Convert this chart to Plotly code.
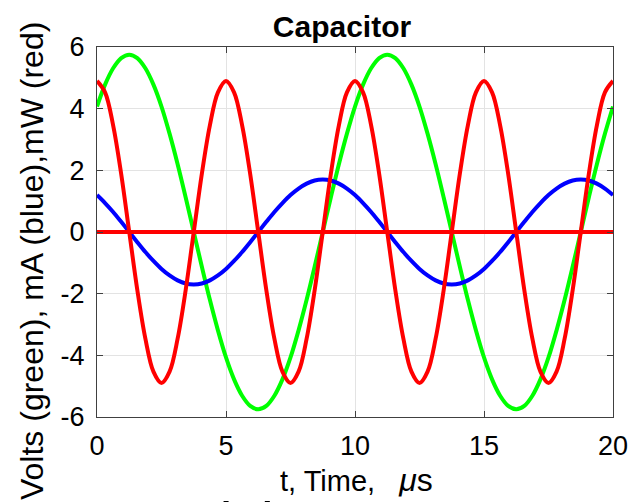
import plotly.graph_objects as go

# time samples (microseconds)
t = [0.0, 0.3125, 0.625, 0.9375, 1.25, 1.5625, 1.875, 2.1875, 2.5, 2.8125, 3.125, 3.4375, 3.75, 4.0625, 4.375, 4.6875,
     5.0, 5.3125, 5.625, 5.9375, 6.25, 6.5625, 6.875, 7.1875, 7.5, 7.8125, 8.125, 8.4375, 8.75, 9.0625, 9.375, 9.6875,
     10.0, 10.3125, 10.625, 10.9375, 11.25, 11.5625, 11.875, 12.1875, 12.5, 12.8125, 13.125, 13.4375, 13.75, 14.0625, 14.375, 14.6875,
     15.0, 15.3125, 15.625, 15.9375, 16.25, 16.5625, 16.875, 17.1875, 17.5, 17.8125, 18.125, 18.4375, 18.75, 19.0625, 19.375, 19.6875,
     20.0]

# voltage (green), volts
volts = [4.07, 4.78, 5.31, 5.64,
         5.75, 5.64, 5.31, 4.78, 4.07, 3.19, 2.20, 1.12, 0.0, -1.12, -2.20, -3.19, -4.07, -4.78, -5.31, -5.64,
         -5.75, -5.64, -5.31, -4.78, -4.07, -3.19, -2.20, -1.12, 0.0, 1.12, 2.20, 3.19, 4.07, 4.78, 5.31, 5.64,
         5.75, 5.64, 5.31, 4.78, 4.07, 3.19, 2.20, 1.12, 0.0, -1.12, -2.20, -3.19, -4.07, -4.78, -5.31, -5.64,
         -5.75, -5.64, -5.31, -4.78, -4.07, -3.19, -2.20, -1.12, 0.0, 1.12, 2.20, 3.19, 4.07]

# current (blue), mA
current = [1.20, 0.94, 0.65, 0.33, 0.0, -0.33, -0.65, -0.94, -1.20, -1.41, -1.57, -1.67, -1.70, -1.67, -1.57, -1.41,
           -1.20, -0.94, -0.65, -0.33, 0.0, 0.33, 0.65, 0.94, 1.20, 1.41, 1.57, 1.67,
           1.70, 1.67, 1.57, 1.41, 1.20, 0.94, 0.65, 0.33, 0.0, -0.33, -0.65, -0.94, -1.20, -1.41, -1.57, -1.67,
           -1.70, -1.67, -1.57, -1.41, -1.20, -0.94, -0.65, -0.33, 0.0, 0.33, 0.65, 0.94, 1.20, 1.41, 1.57, 1.67,
           1.70, 1.67, 1.57, 1.41, 1.20]

# power (red), mW
power = [4.90, 4.53, 3.46, 1.88, 0.0, -1.88, -3.46, -4.53, -4.90, -4.53, -3.46, -1.88, 0.0, 1.88, 3.46, 4.53,
         4.90, 4.53, 3.46, 1.88, 0.0, -1.88, -3.46, -4.53, -4.90, -4.53, -3.46, -1.88, 0.0, 1.88, 3.46, 4.53,
         4.90, 4.53, 3.46, 1.88, 0.0, -1.88, -3.46, -4.53, -4.90, -4.53, -3.46, -1.88, 0.0, 1.88, 3.46, 4.53,
         4.90, 4.53, 3.46, 1.88, 0.0, -1.88, -3.46, -4.53, -4.90, -4.53, -3.46, -1.88, 0.0, 1.88, 3.46, 4.53,
         4.90]

# zero reference line (red)
zero_t = [0, 20]
zero_y = [0, 0]

x_ticks = [0, 5, 10, 15, 20]
y_ticks = [-6, -4, -2, 0, 2, 4, 6]

title_text = "<b>Capacitor</b>"
x_label = "t, Time,\u00a0\u00a0\u00a0<span style='font-size:32px'><i>μ</i>s</span>"
y_label = "Volts (green), mA (blue),mW (red)"
bottom_text = "Deriving more C"

FONT = "Liberation Sans, Arial, Helvetica, sans-serif"
LW = 4

fig = go.Figure()
fig.add_trace(go.Scatter(x=t, y=volts, mode="lines", line=dict(color="#00ff00", width=LW, shape="spline"),
                         showlegend=False))
fig.add_trace(go.Scatter(x=t, y=current, mode="lines", line=dict(color="#0000ff", width=LW, shape="spline"),
                         showlegend=False))
fig.add_trace(go.Scatter(x=t, y=power, mode="lines", line=dict(color="#ff0000", width=LW, shape="spline"),
                         showlegend=False))
fig.add_trace(go.Scatter(x=zero_t, y=zero_y, mode="lines", line=dict(color="#ff0000", width=LW),
                         showlegend=False))

axis_common = dict(
    showline=True, linecolor="#404040", linewidth=1, mirror="ticks",
    ticks="inside", ticklen=6, tickcolor="#404040", tickwidth=1,
    showgrid=True, gridcolor="#e3e3e3", gridwidth=1,
    zeroline=False,
    tickfont=dict(family=FONT, size=27, color="#000000"),
)

fig.update_xaxes(range=[0, 20], tickvals=x_ticks, ticktext=[str(v) for v in x_ticks],
                 ticklabelstandoff=5, **axis_common)
fig.update_yaxes(range=[-6, 6], tickvals=y_ticks, ticktext=[str(v) for v in y_ticks],
                 ticklabelstandoff=6, **axis_common)

fig.update_layout(
    width=632, height=502,
    margin=dict(l=97, r=19, t=47, b=85, autoexpand=False),
    paper_bgcolor="white", plot_bgcolor="white",
    font=dict(family=FONT, color="#000000"),
    title=dict(text=title_text, font=dict(family=FONT, size=30, color="#000000"),
               x=(342 - 97) / 516, xref="paper", xanchor="center",
               y=1 - 26 / 502, yref="container", yanchor="middle"),
    annotations=[
        dict(text=x_label, xref="paper", yref="paper", x=(356 - 97) / 516, y=-(480 - 417) / 370,
             xanchor="center", yanchor="middle", showarrow=False,
             font=dict(family=FONT, size=29, color="#000000")),
        dict(text=y_label, xref="paper", yref="paper", x=(32 - 97) / 516, y=(417 - 261) / 370,
             xanchor="center", yanchor="middle", showarrow=False, textangle=-90,
             font=dict(family=FONT, size=32, color="#000000")),
        dict(text=bottom_text, xref="paper", yref="paper", x=(126 - 97) / 516, y=-(489 - 417) / 370,
             xanchor="left", yanchor="top", showarrow=False,
             font=dict(family=FONT, size=57, color="#000000")),
    ],
)

fig.write_html("out.html", config={"displayModeBar": False},
               post_script="document.body.style.margin='0';document.body.style.overflow='hidden';")
